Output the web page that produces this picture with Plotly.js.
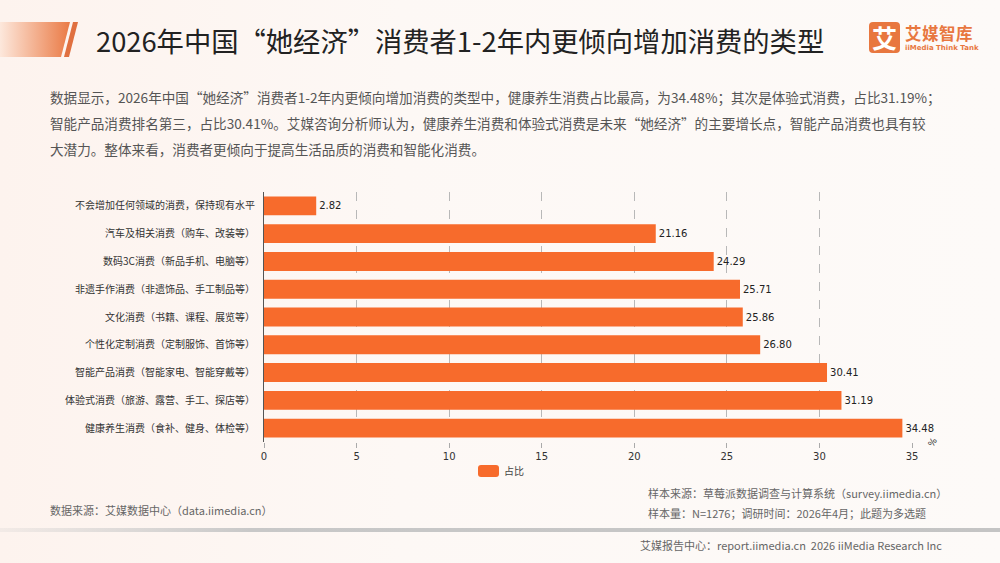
<!DOCTYPE html>
<html>
<head>
<meta charset="utf-8">
<script src="https://cdn.plot.ly/plotly-3.0.1.min.js"></script>
<style>
  html, body { margin:0; padding:0; }
  body { width:1000px; height:563px; overflow:hidden; position:relative;
         background: linear-gradient(90deg, #fdf3ee 0%, #fdf8f5 40%, #fdfaf8 100%);
         font-family: "Noto Sans CJK SC", "Noto Sans", sans-serif; }
  #chart { position:absolute; left:0; top:0; width:1000px; height:563px; }
  .abs { position:absolute; white-space:nowrap; }
  #title { left:96px; top:21px; font-size:27.3px; color:#222; line-height:38px; letter-spacing:0px; }
  #para { left:50px; top:84px; font-size:13.6px; color:#555; line-height:26px; }
  .foot { font-size:11px; color:#666; }
  #sep { position:absolute; left:0; top:528px; width:1000px; height:4px;
         background: linear-gradient(90deg, rgba(200,200,200,0.2) 0%, #c8c8c8 25%, #c4c4c4 100%); }
  #logoBox { position:absolute; left:869px; top:22px; width:31px; height:31px; background:#e8773f; border-radius:4px;
             color:#fff; font-size:25px; font-weight:bold; text-align:center; line-height:31px; }
  #logoTxt { left:905px; top:23px; font-size:16.5px; font-weight:bold; color:#e8773f; letter-spacing:0.5px; line-height:20px; }
  #logoSub { left:905px; top:44px; font-size:7px; font-weight:bold; color:#e8773f; font-family:"DejaVu Sans", sans-serif; line-height:9px; }
  #legSwatch { position:absolute; left:478px; top:465px; width:21px; height:12px; background:#f76b2c; border-radius:3px; }
  #legText { left:504px; top:463px; font-size:10px; color:#444; line-height:16px; }
</style>
</head>
<body>
<svg class="abs" style="left:0;top:0" width="100" height="70">
  <defs>
    <linearGradient id="g1" x1="0" x2="1" y1="0" y2="0">
      <stop offset="0" stop-color="#fde8dc"/>
      <stop offset="1" stop-color="#ea7a45"/>
    </linearGradient>
  </defs>
  <polygon points="0,22 70,22 61,57 0,57" fill="url(#g1)"/>
  <polygon points="73,22 78,22 69,57 64,57" fill="#e07040"/>
</svg>
<div id="chart"></div>
<div id="title" class="abs">2026年中国“她经济”消费者1-2年内更倾向增加消费的类型</div>
<div id="logoBox">艾</div>
<div id="logoTxt" class="abs">艾媒智库</div>
<div id="logoSub" class="abs">iiMedia Think Tank</div>
<div id="para" class="abs">数据显示，2026年中国“她经济”消费者1-2年内更倾向增加消费的类型中，健康养生消费占比最高，为34.48%；其次是体验式消费，占比31.19%；<br>智能产品消费排名第三，占比30.41%。艾媒咨询分析师认为，健康养生消费和体验式消费是未来“她经济”的主要增长点，智能产品消费也具有较<br>大潜力。整体来看，消费者更倾向于提高生活品质的消费和智能化消费。</div>
<div class="abs foot" style="left:50px;top:502px;">数据来源：艾媒数据中心（data.iimedia.cn）</div>
<div class="abs foot" style="left:648px;top:485px;">样本来源：草莓派数据调查与计算系统（survey.iimedia.cn）</div>
<div class="abs foot" style="left:648px;top:505px;">样本量：N=1276；调研时间：2026年4月；此题为多选题</div>
<div id="sep"></div>
<div class="abs foot" style="left:640px;top:537px;">艾媒报告中心：report.iimedia.cn&nbsp;&nbsp;2026 iiMedia Research Inc</div>
<div id="legSwatch"></div>
<div id="legText" class="abs"></div>
<script>
const categories = [
  "不会增加任何领域的消费，保持现有水平",
  "汽车及相关消费（购车、改装等）",
  "数码3C消费（新品手机、电脑等）",
  "非遗手作消费（非遗饰品、手工制品等）",
  "文化消费（书籍、课程、展览等）",
  "个性化定制消费（定制服饰、首饰等）",
  "智能产品消费（智能家电、智能穿戴等）",
  "体验式消费（旅游、露营、手工、探店等）",
  "健康养生消费（食补、健身、体检等）"
];
const values = [2.82, 21.16, 24.29, 25.71, 25.86, 26.80, 30.41, 31.19, 34.48];
const seriesName = "占比";
const xTicks = [0, 5, 10, 15, 20, 25, 30, 35];

document.getElementById("legText").textContent = seriesName;

const trace = {
  type: "bar",
  orientation: "h",
  y: categories,
  x: values,
  name: seriesName,
  marker: { color: "#f76b2c" },
  width: 0.68,
  text: values.map(v => v.toFixed(2)),
  textposition: "outside",
  cliponaxis: false,
  textfont: { family: "DejaVu Sans, sans-serif", size: 10, color: "#222" },
  hoverinfo: "skip"
};

const layout = {
  width: 1000, height: 563,
  margin: { l: 264, r: 88, t: 192, b: 121 },
  paper_bgcolor: "rgba(0,0,0,0)",
  plot_bgcolor: "rgba(0,0,0,0)",
  showlegend: false,
  xaxis: {
    range: [0, 35], tickvals: xTicks, ticktext: xTicks.map(String),
    showgrid: true, gridcolor: "#b8b8b8", griddash: "dash", gridwidth: 1,
    zeroline: false, showline: false,
    ticks: "outside", ticklen: 5, tickcolor: "#aaa",
    tickfont: { family: "DejaVu Sans, sans-serif", size: 10, color: "#333" }
  },
  yaxis: {
    autorange: "reversed", showgrid: false, zeroline: false,
    showline: true, linecolor: "#555", linewidth: 1,
    ticks: "", ticklabelstandoff: 6,
    tickfont: { family: "Noto Sans CJK SC", size: 10, color: "#333" }
  },
  annotations: [
    { xref: "paper", yref: "paper", x: 1.032, y: 0.0, xanchor: "center", yanchor: "middle",
      text: "%", showarrow: false,
      textangle: -60, font: { family: "DejaVu Sans, sans-serif", size: 9, color: "#333" } }
  ],
  bargap: 0.32
};

Plotly.newPlot("chart", [trace], layout, { staticPlot: true, displayModeBar: false });
</script>
</body>
</html>
